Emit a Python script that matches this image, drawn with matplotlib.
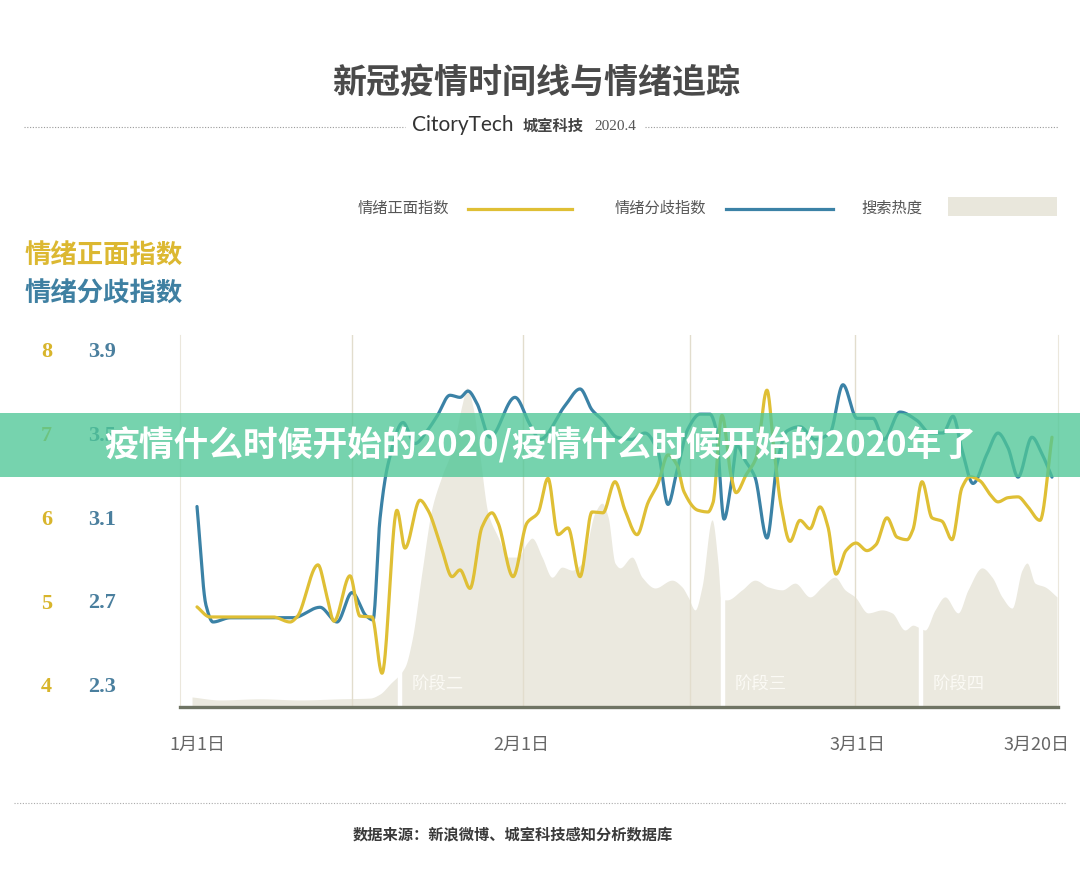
import numpy as np
import matplotlib
matplotlib.use('Agg')
import matplotlib.pyplot as plt
from matplotlib.patches import Rectangle
from matplotlib.lines import Line2D

CJK = ['Noto Sans CJK SC', 'DejaVu Sans']
plt.rcParams['font.family'] = CJK

# ---------------- data (x = days since 1 Jan 2020) ----------------
pos_days = [0.00, 1.20, 7.02, 8.60, 9.24, 11.18, 12.01, 12.66, 14.14, 15.06, 16.17, 17.10, 18.48, 19.22,
            20.61, 21.35, 22.64, 23.57, 24.31, 25.23, 26.34, 27.26, 27.82, 29.21, 30.50, 31.52, 32.44,
            33.36, 34.29, 35.40, 36.51, 37.52, 38.63, 39.56, 40.67, 41.68, 42.61, 43.53, 44.36, 45.01,
            46.30, 47.23, 47.69, 48.52, 49.35, 49.82, 50.74, 51.66, 52.68, 53.33, 53.97, 54.81, 55.73,
            56.65, 57.58, 58.32, 59.06, 59.98, 60.91, 61.92, 62.75, 63.77, 64.70, 65.62, 66.17, 67.01,
            67.93, 68.85, 69.78, 70.70, 71.44, 72.37, 73.29, 74.03, 74.95, 75.88, 76.80, 77.91, 79.02]
pos_vals = [4.93, 4.81, 4.81, 4.75, 4.81, 5.43, 5.05, 4.76, 5.30, 4.82, 4.81, 4.14, 6.08, 5.63,
            6.20, 6.08, 5.61, 5.29, 5.37, 5.15, 5.88, 6.05, 5.93, 5.29, 5.93, 6.05, 6.46,
            5.79, 5.87, 5.29, 6.06, 6.05, 6.42, 6.08, 5.79, 6.17, 6.40, 6.74, 6.62, 6.30,
            6.08, 6.06, 6.17, 7.21, 6.50, 6.29, 6.50, 6.70, 7.51, 6.80, 6.14, 5.71, 5.96,
            5.86, 6.12, 5.88, 5.32, 5.60, 5.69, 5.60, 5.67, 5.99, 5.76, 5.73, 5.85, 6.42,
            5.99, 5.95, 5.73, 6.35, 6.48, 6.43, 6.27, 6.18, 6.23, 6.24, 6.12, 5.96, 6.95]

div_days = [0.00, 0.83, 1.48, 3.05, 7.02, 8.87, 11.37, 12.94, 14.33, 15.62, 16.27, 16.91, 17.65, 19.04,
            20.15, 21.26, 22.18, 23.38, 24.31, 25.05, 25.88, 27.08, 29.39, 30.78, 31.70, 34.01, 35.40,
            36.51, 37.52, 38.82, 40.20, 41.40, 42.61, 43.53, 44.36, 45.38, 46.49, 47.41, 47.97, 48.71,
            49.35, 49.91, 50.65, 51.57, 52.68, 53.60, 54.53, 55.73, 57.12, 58.50, 59.70, 61.00, 62.48,
            63.49, 64.97, 66.54, 67.74, 68.95, 69.87, 70.70, 71.72, 73.01, 74.03, 74.95, 75.88, 77.17,
            78.10, 79.02]
div_vals = [3.15, 2.68, 2.60, 2.62, 2.62, 2.62, 2.67, 2.60, 2.74, 2.63, 2.61, 3.09, 3.35, 3.55,
            3.45, 3.51, 3.58, 3.68, 3.67, 3.70, 3.64, 3.48, 3.67, 3.54, 3.47, 3.63, 3.71,
            3.61, 3.56, 3.48, 3.47, 3.50, 3.41, 3.16, 3.32, 3.52, 3.59, 3.59, 3.52, 3.09,
            3.25, 3.44, 3.37, 3.29, 3.00, 3.35, 3.51, 3.53, 3.47, 3.50, 3.73, 3.57, 3.57,
            3.47, 3.60, 3.56, 3.50, 3.50, 3.58, 3.42, 3.26, 3.40, 3.50, 3.43, 3.29, 3.48,
            3.40, 3.29]

heat_days = [-0.46, 2.13, 5.82, 9.52, 13.22, 15.99, 16.91, 17.84, 19.22, 19.87, 20.79, 21.72, 22.64,
             23.66, 24.49, 24.95, 25.51, 26.16, 26.89, 27.82, 28.74, 29.67, 30.50, 30.96, 31.89, 32.81,
             33.73, 34.66, 35.58, 36.78, 37.43, 37.99, 38.63, 39.09, 40.20, 41.13, 42.33, 43.90, 44.82,
             45.38, 46.03, 46.67, 47.60, 48.15, 48.43, 48.98, 50.37, 51.57, 52.77, 54.07, 55.27, 56.65,
             57.76, 58.96, 59.89, 60.81, 62.01, 63.31, 64.23, 65.43, 66.17, 66.64, 67.28, 68.21, 69.13,
             70.33, 71.26, 72.55, 73.48, 74.40, 75.32, 76.25, 76.71, 77.45, 78.37, 79.48]
heat_vals = [2.7, 1.9, 2.2, 1.9, 2.2, 2.4, 3.5, 6.2, 10.8, 18.0, 36.3, 53.5, 62.1,
             69.9, 81.2, 85.8, 80.6, 67.2, 52.2, 45.7, 40.3, 40.3, 44.1, 45.4, 40.3, 34.9,
             37.6, 36.8, 38.7, 52.2, 54.8, 51.1, 38.7, 37.4, 40.3, 34.9, 32.0, 34.1, 32.3,
             29.6, 26.1, 32.3, 50.3, 38.7, 28.8, 28.8, 31.5, 34.1, 32.3, 31.5, 33.3, 29.6,
             32.3, 34.9, 31.5, 29.6, 25.3, 26.1, 25.3, 20.7, 22.0, 21.5, 20.7, 26.1, 29.6,
             25.3, 31.5, 37.4, 34.9, 29.6, 26.6, 36.8, 38.7, 33.3, 32.3, 29.6]

stage_gaps = [18.76, 48.61, 66.91]
stage_names = ['阶段二', '阶段三', '阶段四']

pos_ticks = [4, 5, 6, 7, 8]
div_ticks = [2.3, 2.7, 3.1, 3.5, 3.9]
x_tick_pos = [0.0, 30.0, 61.0, 77.6]
x_tick_labels = ['1月1日', '2月1日', '3月1日', '3月20日']
grid_days = [14.3, 30.1, 45.6, 60.8]

YELLOW = '#dfbf35'
BLUE = '#3b82a6'
FILL = '#ebe9df'


def smooth(x, y, n=2000):
    """monotone cubic (Fritsch-Butland) rendering of the line"""
    x = np.asarray(x, float)
    y = np.asarray(y, float)
    h = np.diff(x)
    d = np.diff(y) / h
    m = np.zeros_like(y)
    m[0], m[-1] = d[0], d[-1]
    for k in range(1, len(x) - 1):
        if d[k - 1] * d[k] > 0:
            w1 = 2 * h[k] + h[k - 1]
            w2 = h[k] + 2 * h[k - 1]
            m[k] = (w1 + w2) / (w1 / d[k - 1] + w2 / d[k])
    xs = np.linspace(x[0], x[-1], n)
    idx = np.clip(np.searchsorted(x, xs) - 1, 0, len(x) - 2)
    t = (xs - x[idx]) / h[idx]
    h00 = 2 * t**3 - 3 * t**2 + 1
    h10 = t**3 - 2 * t**2 + t
    h01 = -2 * t**3 + 3 * t**2
    h11 = t**3 - t**2
    ys = h00 * y[idx] + h10 * h[idx] * m[idx] + h01 * y[idx + 1] + h11 * h[idx] * m[idx + 1]
    return xs, ys


fig = plt.figure(figsize=(10.8, 8.93), dpi=100)
fig.patch.set_facecolor('white')

rect = [180 / 1080, 1 - 707 / 893, 878 / 1080, 372 / 893]
ax_h = fig.add_axes(rect)
ax_b = ax_h.twinx()
ax_y = ax_h.twinx()

xlim = (-1.571, 79.575)
for a in (ax_h, ax_b, ax_y):
    a.set_xlim(*xlim)
    a.patch.set_visible(False)
    for s in a.spines.values():
        s.set_visible(False)

# heat area
hx, hy = smooth(heat_days, heat_vals)
ax_h.fill_between(hx, 0, hy, color=FILL, lw=0, zorder=1)
ax_h.set_ylim(0, 100)
for g in stage_gaps:
    ax_h.axvline(g, color='white', lw=3.2, zorder=2)
for g, name in zip(stage_gaps, stage_names):
    ax_h.text(g + 1.1, 5.9, name, color='#fbfaf5', fontsize=12.5, ha='left', va='center', zorder=3)
for g in grid_days:
    ax_h.axvline(g, color='#e2ddcd', lw=1.0, zorder=2.5)
ax_h.spines['left'].set_visible(True)
ax_h.spines['right'].set_visible(True)
ax_h.spines['left'].set_color('#ebe7dc')
ax_h.spines['right'].set_color('#ebe7dc')
ax_h.spines['bottom'].set_visible(True)
ax_h.spines['bottom'].set_color('#6f7464')
ax_h.spines['bottom'].set_linewidth(2.4)
ax_h.spines['bottom'].set_zorder(5)
ax_h.set_yticks([])
ax_h.set_xticks(x_tick_pos)
ax_h.set_xticklabels(x_tick_labels)
ax_h.tick_params(axis='x', length=0, pad=21, labelsize=13, labelcolor='#666666')

# divergence index (blue)
bx, by = smooth(div_days, div_vals)
ax_b.plot(bx, by, color=BLUE, lw=2.3, solid_capstyle='round', zorder=3)
ax_b.set_ylim(2.195, 3.967)
ax_b.yaxis.set_ticks_position('left')
ax_b.set_yticks(div_ticks)
ax_b.set_yticklabels([f'{v:.1f}' for v in div_ticks])
ax_b.tick_params(axis='y', length=0, pad=46, labelsize=16, labelcolor='#4a7f9e')
for lab in ax_b.get_yticklabels():
    lab.set_fontfamily('Liberation Serif')
    lab.set_fontweight('bold')

# positive index (yellow)
yx, yy = smooth(pos_days, pos_vals)
ax_y.plot(yx, yy, color=YELLOW, lw=2.3, solid_capstyle='round', zorder=4)
ax_y.set_ylim(3.738, 8.167)
ax_y.yaxis.set_ticks_position('left')
ax_y.set_yticks(pos_ticks)
ax_y.set_yticklabels([str(v) for v in pos_ticks])
ax_y.tick_params(axis='y', length=0, pad=92, labelsize=16, labelcolor='#d8b52c')
for lab in ax_y.get_yticklabels():
    lab.set_fontfamily('Liberation Serif')
    lab.set_fontweight('bold')

# ---------------- header / legend / footer ----------------
fig.text(0.4963, 0.9082, '新冠疫情时间线与情绪追踪', ha='center', va='center',
         fontsize=24.5, fontweight='bold', color='#4a4a4a')
fig.add_artist(Line2D([0.0222, 0.375], [0.8578, 0.8578], color='#9a9a9a', lw=0.8, ls=(0, (1, 1.5))))
fig.add_artist(Line2D([0.597, 0.98], [0.8578, 0.8578], color='#9a9a9a', lw=0.8, ls=(0, (1, 1.5))))
fig.text(0.3815, 0.8595, 'CitoryTech', ha='left', va='center', fontsize=15,
         family=['Lato', 'DejaVu Sans'], color='#333333')
fig.text(0.4843, 0.8595, '城室科技', ha='left', va='center', fontsize=11,
         fontweight='bold', color='#444444')
fig.text(0.5500, 0.8585, '2020.4', ha='left', va='center', fontsize=11,
         family=['Liberation Serif'], color='#555555')

fig.text(0.3315, 0.7665, '情绪正面指数', ha='left', va='center', fontsize=11, color='#555555')
fig.add_artist(Line2D([0.4333, 0.5296], [0.766, 0.766], color=YELLOW, lw=2.3))
fig.text(0.5694, 0.7665, '情绪分歧指数', ha='left', va='center', fontsize=11, color='#555555')
fig.add_artist(Line2D([0.6722, 0.7713], [0.766, 0.766], color=BLUE, lw=2.3))
fig.text(0.7972, 0.7665, '搜索热度', ha='left', va='center', fontsize=11, color='#555555')
fig.add_artist(Rectangle((0.8778, 0.7581), 0.1009, 0.0213, transform=fig.transFigure,
                         facecolor='#e9e7dc', edgecolor='none'))

fig.text(0.0231, 0.7133, '情绪正面指数', ha='left', va='center', fontsize=19,
         fontweight='bold', color='#dcb831')
fig.text(0.0231, 0.6708, '情绪分歧指数', ha='left', va='center', fontsize=19,
         fontweight='bold', color='#3f80a2')

fig.add_artist(Line2D([0.013, 0.987], [0.1008, 0.1008], color='#aaaaaa', lw=0.8, ls=(0, (1, 1.5))))
fig.text(0.475, 0.066, '数据来源：新浪微博、城室科技感知分析数据库', ha='center', va='center',
         fontsize=11, fontweight='bold', color='#3a3a3a')

# overlay banner
fig.add_artist(Rectangle((0.0, 0.4658), 1.0, 0.0717, transform=fig.transFigure,
                         facecolor='#4fc797', edgecolor='none', alpha=0.78, zorder=10))
fig.text(0.5, 0.5017, '疫情什么时候开始的2020/疫情什么时候开始的2020年了', ha='center', va='center',
         fontsize=25, fontweight='bold', color='white', zorder=11)

fig.savefig('out.png', dpi=100, facecolor='white')
